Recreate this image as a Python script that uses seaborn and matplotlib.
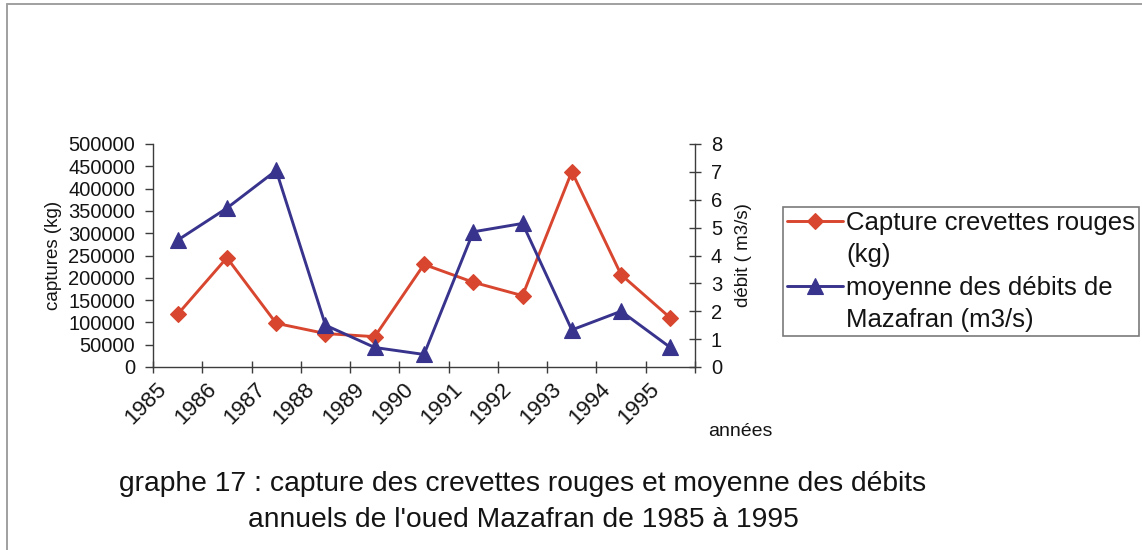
import matplotlib
matplotlib.use("Agg")
import matplotlib.pyplot as plt
from matplotlib.lines import Line2D
from matplotlib.ticker import FixedLocator, FuncFormatter
import numpy as np
import pandas as pd
import seaborn as sns

# Annual red shrimp catches and mean discharge of the Mazafran wadi
years = ["1985", "1986", "1987", "1988", "1989", "1990",
         "1991", "1992", "1993", "1994", "1995"]
captures_kg = [118000, 245000, 98000, 75000, 68000, 230000,
               190000, 160000, 438000, 207000, 110000]
debits_m3s = [4.55, 5.7, 7.05, 1.5, 0.7, 0.45, 4.85, 5.15, 1.33, 2.0, 0.7]

capture_ticks = list(range(0, 500001, 50000))
debit_ticks = list(range(0, 9))

label_capture = ["Capture crevettes rouges", "(kg)"]
label_debit = ["moyenne des débits de", "Mazafran (m3/s)"]
title_lines = ["graphe 17 : capture des crevettes rouges et moyenne des débits",
               "annuels de l'oued Mazafran de 1985 à 1995"]

RED = "#d8462f"
BLUE = "#38338c"
INK = "#141414"
AXIS = "#3c3c3c"

sns.set_theme(style="white")
plt.rcParams["font.family"] = ["Liberation Sans", "DejaVu Sans"]

W, H = 1142, 550
fig = plt.figure(figsize=(W / 100, H / 100), dpi=100)
fig.patch.set_facecolor("white")

ax = fig.add_axes([153 / W, 1 - 367 / H, 542 / W, 223 / H])
ax2 = ax.twinx()

df = pd.DataFrame({"pos": np.arange(len(years)),
                   "capture": captures_kg,
                   "debit": debits_m3s})

sns.lineplot(data=df, x="pos", y="capture", ax=ax, color=RED, marker="D",
             markersize=8.5, markeredgecolor=RED, markeredgewidth=0.8,
             linewidth=2.1, legend=False)
sns.lineplot(data=df, x="pos", y="debit", ax=ax2, color=BLUE, marker="^",
             markersize=11, markeredgecolor=BLUE, markeredgewidth=0.8,
             linewidth=2.1, legend=False)

# left axis: catches
ax.set_xlim(-0.5, len(years) - 0.5)
ax.set_ylim(0, 500000)
ax.set_yticks(capture_ticks)
ax.yaxis.set_major_formatter(FuncFormatter(lambda v, p: f"{int(v)}"))
ax.tick_params(axis="y", direction="out", length=6, width=1, color=AXIS,
               pad=7, labelsize=14.5, labelcolor=INK, left=True)
ax.set_ylabel("captures (kg)", fontsize=13.5, color=INK, va="center")
ax.yaxis.set_label_coords(-100 / 542, 0.5)

# categorical x axis: boundary ticks, labels between them
ax.xaxis.set_major_locator(FixedLocator(np.arange(-0.5, len(years), 1.0)))
ax.xaxis.set_major_formatter(FuncFormatter(lambda v, p: ""))
ax.set_xticks(np.arange(len(years)) - 0.28, years, minor=True)
ax.tick_params(axis="x", which="major", direction="inout", length=9, width=1,
               color=AXIS, bottom=True)
ax.tick_params(axis="x", which="minor", length=0, pad=14, labelsize=16,
               labelcolor=INK, bottom=True)
for lab in ax.get_xticklabels(minor=True):
    lab.set_rotation(45)
    lab.set_ha("right")
    lab.set_va("center")
    lab.set_rotation_mode("anchor")
ax.set_xlabel("")

# right axis: discharge
ax2.set_ylim(0, 8)
ax2.set_yticks(debit_ticks)
ax2.tick_params(axis="y", direction="inout", length=9, width=1, color=AXIS,
                pad=7, labelsize=14.5, labelcolor=INK, right=True)
ax2.set_ylabel("débit ( m3/s)", fontsize=13.5, color=INK, va="center")
ax2.yaxis.set_label_coords(590 / 542, 0.5)

for a in (ax, ax2):
    a.grid(False)
    a.set_facecolor("none")
    for s in a.spines.values():
        s.set_visible(False)
ax.spines["left"].set_visible(True)
ax.spines["bottom"].set_visible(True)
ax2.spines["right"].set_visible(True)
for s in (ax.spines["left"], ax.spines["bottom"], ax2.spines["right"]):
    s.set_color(AXIS)
    s.set_linewidth(1.0)

fig.text(740 / W, 1 - 432 / H, "années", ha="center", va="center",
         fontsize=14, color=INK)

# legend: marker sits on the first line of each two-line entry
blank = Line2D([], [], color="none")
handles = [ax.get_lines()[0], blank, ax2.get_lines()[0], blank]
labels = [label_capture[0], label_capture[1], label_debit[0], label_debit[1]]
leg = fig.legend(handles, labels, loc="upper left",
                 bbox_to_anchor=(783 / W, 1 - 207 / H),
                 bbox_transform=fig.transFigure, frameon=True, fancybox=False,
                 edgecolor="#7a7a7a", fontsize=18.5, handlelength=2.2,
                 handletextpad=0.1, labelspacing=0.33, borderpad=0.15,
                 borderaxespad=0, framealpha=1)
leg.get_frame().set_linewidth(1.2)
for t in leg.get_texts():
    t.set_color(INK)

# caption
fig.text(523 / W, 1 - 491 / H, title_lines[0], ha="center", va="baseline",
         fontsize=20.3, color=INK)
fig.text(523 / W, 1 - 527 / H, title_lines[1], ha="center", va="baseline",
         fontsize=20.3, color=INK)

# outer frame of the chart area
fig.add_artist(Line2D([7 / W, 1.0], [1 - 4 / H, 1 - 4 / H],
                      transform=fig.transFigure, color="#a0a0a0", lw=1.4))
fig.add_artist(Line2D([7 / W, 7 / W], [0, 1 - 4 / H],
                      transform=fig.transFigure, color="#a0a0a0", lw=1.4))

fig.savefig("out.png", dpi=100, facecolor="white")
